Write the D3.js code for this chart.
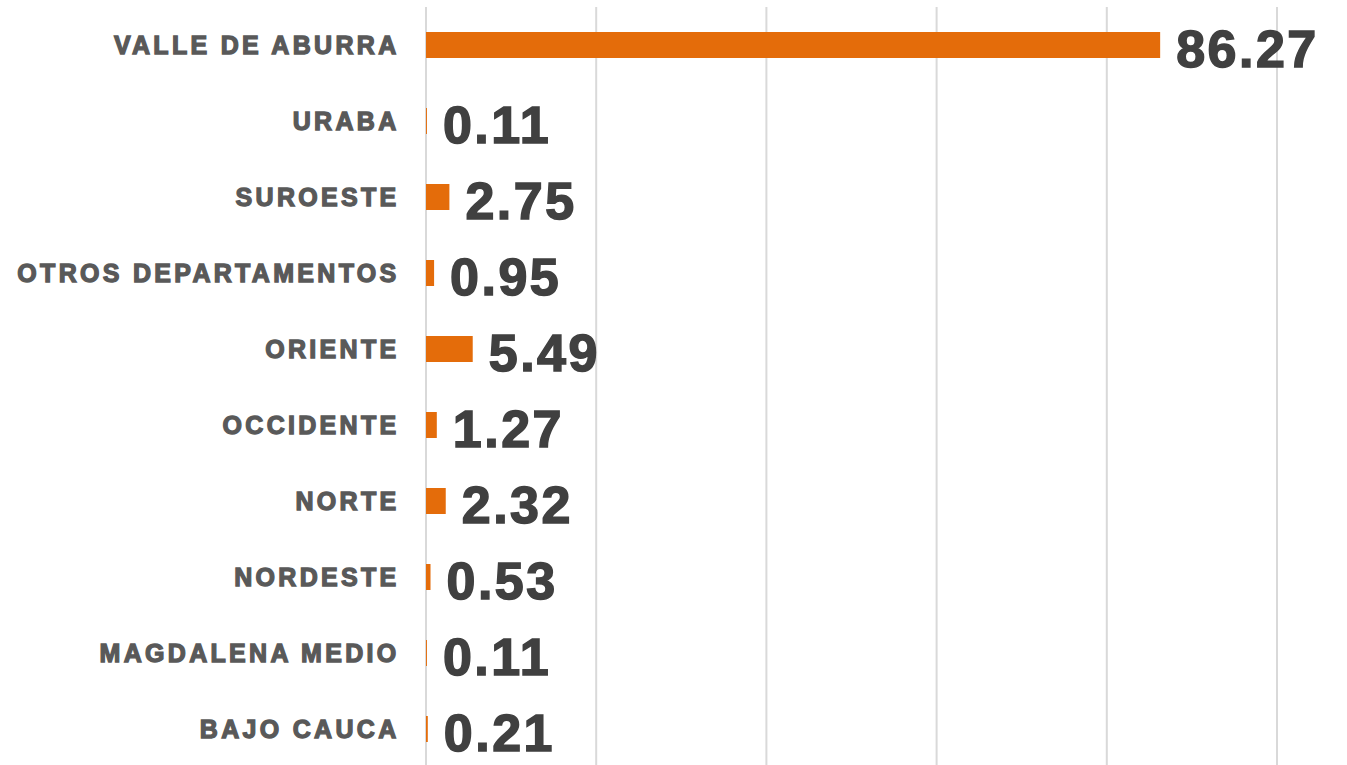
<!DOCTYPE html>
<html>
<head>
<meta charset="utf-8">
<script src="https://cdn.jsdelivr.net/npm/d3@7"></script>
<style>
  html, body { margin: 0; padding: 0; background: #ffffff; }
  svg { display: block; }
</style>
</head>
<body>
<svg id="chart" width="1347" height="765"></svg>
<script>
const categories = ["VALLE DE ABURRA", "URABA", "SUROESTE", "OTROS DEPARTAMENTOS", "ORIENTE",
                    "OCCIDENTE", "NORTE", "NORDESTE", "MAGDALENA MEDIO", "BAJO CAUCA"];
const values = [86.27, 0.11, 2.75, 0.95, 5.49, 1.27, 2.32, 0.53, 0.11, 0.21];
const valueLabels = ["86.27", "0.11", "2.75", "0.95", "5.49", "1.27", "2.32", "0.53", "0.11", "0.21"];
const gridTicks = [0, 20, 40, 60, 80, 100];

const data = categories.map((c, i) => ({ cat: c, val: values[i], label: valueLabels[i] }));

const svg = d3.select("#chart");
const x = d3.scaleLinear().domain([0, 100]).range([426, 1277]);
const y = d3.scaleBand().domain(categories).range([7, 767]).padding(0);
const barH = y.bandwidth() * 0.342;

// gridlines
svg.append("g").selectAll("line").data(gridTicks).join("line")
  .attr("x1", d => x(d)).attr("x2", d => x(d))
  .attr("y1", 7).attr("y2", 765)
  .attr("stroke", "#d9d9d9").attr("stroke-width", 2);

// bars
svg.append("g").selectAll("rect").data(data).join("rect")
  .attr("x", x(0))
  .attr("y", d => y(d.cat) + y.bandwidth() / 2 - barH / 2)
  .attr("width", d => x(d.val) - x(0))
  .attr("height", barH)
  .attr("fill", "#e46c0a");

// category labels
svg.append("g").selectAll("text").data(data).join("text")
  .attr("x", 399.5)
  .attr("y", d => y(d.cat) + y.bandwidth() / 2 + 8.5)
  .attr("text-anchor", "end")
  .attr("font-family", "'Liberation Sans', Arial, sans-serif")
  .attr("font-weight", "bold")
  .attr("font-size", 25)
  .attr("letter-spacing", "3.3px")
  .attr("fill", "#595959")
  .attr("stroke", "#595959")
  .attr("stroke-width", 1.3)
  .text(d => d.cat);

// value labels
svg.append("g").selectAll("text").data(data).join("text")
  .attr("x", d => x(d.val) + 16)
  .attr("y", d => y(d.cat) + y.bandwidth() / 2 + 21.5)
  .attr("font-family", "'Liberation Sans', Arial, sans-serif")
  .attr("font-weight", "bold")
  .attr("font-size", 52)
  .attr("letter-spacing", "2.5px")
  .attr("fill", "#404040")
  .attr("stroke", "#404040")
  .attr("stroke-width", 1.5)
  .text(d => d.label);
</script>
</body>
</html>
